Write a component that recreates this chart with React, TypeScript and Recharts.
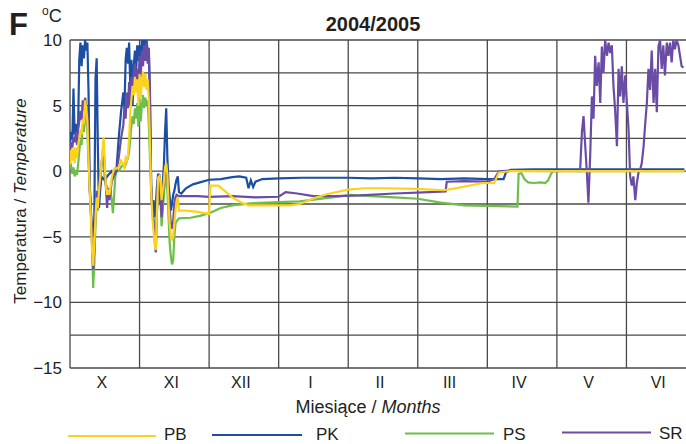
import { CartesianGrid, Line, LineChart, XAxis, YAxis } from "recharts"

// x = day of the season (30-day months, 0 = start of October), y = temperature in °C
const MONTHS = ["X", "XI", "XII", "I", "II", "III", "IV", "V", "VI"]
const MONTH_EDGES = [0, 30, 60, 90, 120, 150, 180, 210, 240, 270]
const X_DOMAIN: [number, number] = [0, 270]
const Y_TICKS = [-15, -12.5, -10, -7.5, -5, -2.5, 0, 2.5, 5, 7.5, 10]

const PK: [number, number][] = [
  [0, 2.0], [0.5, 3.0], [1, 2.4], [1.5, 6.3], [2, 2.8], [2.5, 3.6], [3, 2.6], [3.5, 3.4], [4, 8.5], [4.5, 9.8],
  [5, 8.0], [5.5, 9.6], [6, 8.6], [6.5, 10.0], [7, 9.2], [7.5, 9.8], [8, 6.0], [8.5, -1.0], [9, -3.0], [9.5, -4.5],
  [10, -5.0], [10.5, -3.5], [11, 7.0], [11.5, 8.6], [12, 2.0], [12.5, -2.8], [13, -1.5], [13.5, -0.6], [14, -0.5],
  [15, -0.7], [16, -0.4], [17, -0.2], [18, 0.0], [19, -0.3], [20, 0.0], [21, 2.5], [22, 4.5], [23, 6.0], [23.5, 4.8],
  [24, 8.5], [24.5, 9.4], [25, 8.2], [25.5, 9.8], [26, 6.5], [26.5, 8.5], [27, 5.0], [27.5, 8.0], [28, 9.2],
  [28.5, 7.6], [29, 9.6], [29.5, 8.4], [30, 9.6], [30.5, 7.5], [31, 10.0], [31.5, 8.8], [32, 10.0], [32.5, 9.0],
  [33, 10.0], [33.5, 9.2], [34, 9.0], [34.5, 5.0], [35, -1.0], [35.5, -3.0], [36, -2.2], [36.5, -3.5], [37, -2.6],
  [37.5, -1.2], [38, -0.2], [38.5, -0.5], [39, -2.5], [39.5, -2.0], [40, -1.0], [40.5, 0.5], [41, 3.0], [41.5, 4.8],
  [42, 1.0], [42.5, -1.0], [43, -2.0], [43.5, -3.0], [44, -2.5], [44.5, -1.8], [45, -1.5], [45.5, -1.0], [46, -0.6],
  [46.5, -0.4], [47, -1.6], [48, -1.7], [50, -1.3], [53, -1.0], [56, -0.85], [60, -0.65], [65, -0.6], [70, -0.45],
  [73, -0.4], [76, -0.5], [77, -1.3], [78, -0.7], [79, -1.2], [80, -0.8], [83, -0.6], [90, -0.55], [100, -0.5],
  [110, -0.5], [120, -0.5], [130, -0.55], [140, -0.5], [150, -0.55], [160, -0.6], [170, -0.55], [180, -0.6],
  [187, -0.6], [188, -0.1], [190, 0.1], [200, 0.15], [265, 0.15],
]

const SR: [number, number][] = [
  [0, 1.5], [0.5, 2.2], [1, 1.8], [1.5, 2.6], [2, 2.2], [2.5, 3.0], [3, 2.0], [3.5, 3.2], [4, 3.8], [4.5, 4.6],
  [5, 3.9], [5.5, 5.4], [6, 4.6], [6.5, 5.6], [7, 5.0], [7.5, 4.4], [8, 2.0], [8.5, -1.5], [9, -3.0], [9.5, -5.5],
  [10, -7.5], [10.5, -6.0], [11, -3.0], [11.5, -1.5], [12, -2.5], [12.5, -1.8], [13, -0.8], [13.5, 0.5], [14, 1.2],
  [14.5, 2.0], [15, -0.5], [15.5, -1.2], [16, -2.8], [16.5, -1.3], [17, -2.2], [17.5, -1.5], [18, -0.8], [19, -0.3],
  [20, 0.0], [21, 1.0], [22, 2.5], [23, 3.5], [23.5, 5.0], [24, 4.0], [24.5, 6.0], [25, 4.8], [25.5, 6.8], [26, 5.0],
  [26.5, 7.2], [27, 6.0], [27.5, 7.5], [28, 8.2], [28.5, 6.8], [29, 7.8], [29.5, 6.5], [30, 8.8], [30.5, 7.2],
  [31, 9.2], [31.5, 8.0], [32, 9.6], [32.5, 8.4], [33, 9.8], [33.5, 8.2], [34, 9.4], [34.5, 6.0], [35, -1.0],
  [35.5, -3.0], [36, -3.8], [36.5, -5.0], [37, -6.2], [37.5, -3.0], [38, -0.6], [38.5, -0.2], [39, -1.8], [39.5, -3.5],
  [40, -2.0], [40.5, -0.8], [41, 0.0], [41.5, -0.2], [42, -0.5], [42.5, -2.0], [43, -3.0], [43.5, -4.0], [44, -4.4],
  [44.5, -3.8], [45, -2.5], [45.5, -2.0], [46, -1.8], [47, -1.9], [55, -1.9], [60, -1.95], [70, -1.9], [80, -2.0],
  [90, -1.95], [93, -1.6], [98, -1.7], [105, -1.9], [115, -1.9], [125, -1.85], [140, -1.7], [155, -1.6],
  [162, -1.55], [162.5, -0.8], [170, -0.75], [180, -0.8], [183, -0.6], [185, 0.0], [190, 0.05], [210, 0.0],
  [215, 0.05], [220, 0.0], [220.8, 3.0], [221.5, 4.2], [222.2, 2.0], [222.9, 0.0], [223.6, -2.4], [224.4, 1.4],
  [225.1, 5.7], [225.8, 4.0], [226.5, 8.8], [227.2, 6.5], [228, 8.3], [228.7, 5.2], [229.4, 9.5], [230.1, 7.5],
  [230.8, 10.0], [231.6, 8.8], [232.3, 9.8], [233, 9.0], [233.7, 9.6], [234.4, 6.5], [235.1, 4.7], [235.9, 1.9],
  [236.6, 7.8], [237.3, 5.7], [238, 8.0], [238.7, 5.2], [239.5, 7.3], [240.2, 5.2], [240.9, 3.2], [241.6, -0.4],
  [242.3, -1.1], [243, -0.4], [243.8, -2.2], [244.5, -0.9], [245.2, -0.1], [245.9, 0.1], [246.6, 0.6], [247.4, 1.9],
  [248, 3.4], [248.8, 5.2], [249.5, 7.8], [250.2, 6.2], [250.9, 9.2], [251.7, 5.2], [252.4, 7.8], [253.1, 4.5],
  [253.8, 9.5], [254.5, 10.0], [255.2, 7.8], [255.9, 9.6], [256.6, 7.3], [257.4, 9.8], [258.1, 8.8], [258.8, 9.8],
  [259.5, 8.3], [260.2, 10.0], [260.9, 9.3], [261.6, 10.0], [262.4, 9.6], [263.1, 8.8], [263.8, 8.0], [264.6, 7.9],
]

const PB: [number, number][] = [
  [0, 0.5], [0.5, 1.6], [1, 0.8], [1.5, 1.8], [2, 0.6], [2.5, 1.8], [3, 1.0], [3.5, 2.0], [4, 2.5], [4.5, 3.2],
  [5, 2.8], [5.5, 4.0], [6, 3.6], [6.5, 5.4], [7, 4.8], [7.5, 3.8], [8, 1.0], [8.5, -1.5], [9, -3.5], [9.5, -6.0],
  [10, -7.2], [10.5, -5.5], [11, -3.5], [11.5, -2.0], [12, -2.8], [12.5, -1.5], [13, -0.5], [13.5, 0.5], [14, 1.5],
  [14.5, 2.6], [15, 0.5], [15.5, -1.2], [16, -1.8], [16.5, -1.4], [17, -1.8], [17.5, -1.2], [18, -0.5], [19, 0.2],
  [20, 0.2], [21, 0.3], [22, 0.8], [23, 0.5], [23.5, 0.3], [24, 1.0], [24.5, 0.8], [25, 1.2], [25.5, 2.5], [26, 4.5],
  [26.5, 5.5], [27, 6.5], [27.5, 5.8], [28, 7.2], [28.5, 6.0], [29, 7.0], [29.5, 5.0], [30, 7.4], [30.5, 5.6],
  [31, 6.8], [31.5, 7.6], [32, 6.4], [32.5, 7.4], [33, 6.2], [33.5, 7.0], [34, 5.5], [34.5, 2.0], [35, -1.5],
  [35.5, -3.5], [36, -4.5], [36.5, -5.6], [37, -6.0], [37.5, -3.0], [38, -0.5], [38.5, -0.4], [39, -0.8], [39.5, -2.2],
  [40, -1.5], [40.5, -0.8], [41, 0.3], [41.5, 0.6], [42, -0.2], [42.5, -2.5], [43, -4.0], [43.5, -5.0], [44, -5.2],
  [44.5, -5.0], [45, -4.0], [45.5, -3.0], [46, -2.2], [46.5, -2.0], [47, -3.0], [50, -3.0], [55, -3.1], [60, -3.25],
  [60.5, -1.1], [64, -1.1], [70, -2.0], [74, -2.4], [77, -2.6], [95, -2.6], [99, -2.5], [106, -2.0], [112, -1.7],
  [120, -1.4], [127, -1.3], [135, -1.3], [150, -1.35], [161, -1.45], [165, -1.35], [178, -0.9], [183, -0.9],
  [185, -0.1], [190, 0.0], [265, 0.0],
]

const PS: [number, number][] = [
  [0, 0.2], [0.5, 0.4], [1, -0.2], [1.5, 0.3], [2, -0.4], [2.5, 0.1], [3, -0.3], [3.5, 0.5], [4, 1.5], [4.5, 2.4],
  [5, 2.0], [5.5, 3.6], [6, 3.0], [6.5, 4.6], [7, 4.0], [7.5, 3.0], [8, 0.5], [8.5, -1.0], [9, -3.2], [9.5, -5.5],
  [10, -8.9], [10.5, -7.0], [11, -4.0], [11.5, -2.5], [12, -3.0], [12.5, -1.8], [13, -0.8], [13.5, 0.3], [14, 0.8],
  [14.5, 1.5], [15, 0.3], [15.5, -1.0], [16, -1.2], [16.5, -1.6], [17, -1.8], [17.5, -1.5], [18, -2.2], [18.5, -3.2],
  [19, -2.0], [19.5, -0.5], [20, 0.0], [21, 0.0], [22, 0.3], [23, 0.5], [23.5, 0.3], [24, 0.5], [25, 1.0],
  [25.5, 1.5], [26, 2.5], [26.5, 3.5], [27, 4.2], [27.5, 3.6], [28, 4.8], [28.5, 4.0], [29, 5.2], [29.5, 3.4],
  [30, 5.5], [30.5, 3.8], [31, 5.0], [31.5, 5.8], [32, 4.8], [32.5, 5.6], [33, 5.0], [33.5, 5.4], [34, 3.5],
  [34.5, 1.0], [35, -1.5], [35.5, -3.0], [36, -3.5], [36.5, -4.6], [37, -5.2], [37.5, -3.2], [38, -1.2], [38.5, -0.8],
  [39, -2.0], [39.5, -4.2], [40, -3.0], [40.5, -1.8], [41, -0.5], [41.5, -0.6], [42, -1.5], [42.5, -3.5], [43, -5.5],
  [43.5, -6.5], [44, -7.1], [44.5, -6.8], [45, -5.0], [45.5, -4.0], [46, -3.8], [47, -3.6], [52, -3.55], [56, -3.4],
  [60, -3.2], [65, -2.8], [70, -2.6], [78, -2.45], [90, -2.35], [99, -2.3], [106, -2.15], [113, -2.0], [121, -1.8],
  [130, -1.9], [140, -2.0], [150, -2.1], [160, -2.4], [170, -2.6], [180, -2.65], [193, -2.7], [193.5, -0.2],
  [194.7, -0.15], [196, -0.6], [197.6, -0.85], [200, -0.9], [203, -0.85], [205, -0.9], [206.2, -0.7], [207.5, -0.2],
  [208.3, 0.0], [265, 0.0],
]

const COLORS = { PB: "#fcd21c", PK: "#1c4fa3", PS: "#6dbf4b", SR: "#6a4ca6" }
const FONT = "'Liberation Sans', Arial, sans-serif"
const INK = "#231f20"

const pts = (s: [number, number][]) => s.map(([d, v]) => ({ d, v }))
const fmtY = (v: number) => (v % 5 === 0 ? String(v).replace("-", "\u2212") : "")

// month name sits halfway between its edge tick and the next one
function MonthTick(props: any) {
  const { x, y, payload, width } = props
  const i = MONTH_EDGES.indexOf(payload.value)
  if (i < 0 || i >= MONTHS.length) return null
  const half = ((width ?? 0) * 15) / (X_DOMAIN[1] - X_DOMAIN[0])
  return (
    <text x={x + half - 3} y={y + 12} textAnchor="middle" fontSize={16} fill={INK} fontFamily={FONT}>
      {MONTHS[i]}
    </text>
  )
}

const LEGEND = [
  { key: "PB", x1: 68, x2: 156, y: 436, tx: 164, ty: 440 },
  { key: "PK", x1: 212, x2: 302, y: 435, tx: 316, ty: 440 },
  { key: "PS", x1: 405, x2: 494, y: 433.5, tx: 503, ty: 439.5 },
  { key: "SR", x1: 562, x2: 651, y: 432.5, tx: 659, ty: 439 },
] as const

export default function App() {
  return (
    <div style={{ position: "absolute", left: 0, top: 0, width: 686, height: 444, overflow: "hidden", background: "#fff" }}>
      <LineChart width={700} height={444} margin={{ top: 40, right: 4, bottom: 46, left: 0 }}>
        <CartesianGrid stroke="#4a4a4a" strokeWidth={1.3} />
        <XAxis
          type="number"
          dataKey="d"
          domain={X_DOMAIN}
          ticks={MONTH_EDGES}
          interval={0}
          tick={<MonthTick />}
          tickLine={false}
          axisLine={false}
          height={30}
          allowDataOverflow
        />
        <YAxis
          type="number"
          domain={[-15, 10]}
          ticks={Y_TICKS}
          interval={0}
          tickFormatter={fmtY}
          tick={{ fontSize: 17, fill: INK, fontFamily: FONT }}
          tickLine={false}
          axisLine={false}
          width={70}
          allowDataOverflow
        />
        <Line data={pts(PS)} dataKey="v" stroke={COLORS.PS} strokeWidth={2.2} dot={false} type="linear" isAnimationActive={false} />
        <Line data={pts(PK)} dataKey="v" stroke={COLORS.PK} strokeWidth={2.2} dot={false} type="linear" isAnimationActive={false} />
        <Line data={pts(SR)} dataKey="v" stroke={COLORS.SR} strokeWidth={2.2} dot={false} type="linear" isAnimationActive={false} />
        <Line data={pts(PB)} dataKey="v" stroke={COLORS.PB} strokeWidth={2.2} dot={false} type="linear" isAnimationActive={false} />
      </LineChart>

      <svg width={686} height={444} style={{ position: "absolute", left: 0, top: 0, pointerEvents: "none" }} fontFamily={FONT} fill={INK}>
        <text x={9} y={35} fontSize={31} fontWeight="bold">F</text>
        <text x={42} y={22} fontSize={18}>
          <tspan fontSize={12} dy={-7}>o</tspan>
          <tspan dy={7}>C</tspan>
        </text>
        <text x={373} y={31} textAnchor="middle" fontSize={20} fontWeight="bold">2004/2005</text>
        <text transform="translate(26,201) rotate(-90)" textAnchor="middle" fontSize={17}>
          Temperatura / <tspan fontStyle="italic">Temperature</tspan>
        </text>
        <text x={368} y={413} textAnchor="middle" fontSize={18}>
          Miesiące / <tspan fontStyle="italic">Months</tspan>
        </text>
        {LEGEND.map((l) => (
          <g key={l.key}>
            <line x1={l.x1} x2={l.x2} y1={l.y} y2={l.y} stroke={COLORS[l.key]} strokeWidth={2} />
            <text x={l.tx} y={l.ty} fontSize={17}>{l.key}</text>
          </g>
        ))}
      </svg>
    </div>
  )
}
